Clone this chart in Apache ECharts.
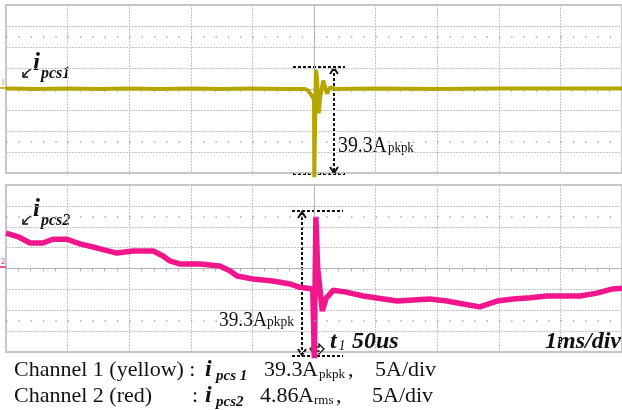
<!DOCTYPE html>
<html>
<head>
<meta charset="utf-8">
<script src="https://cdn.jsdelivr.net/npm/echarts@6/dist/echarts.min.js"></script>
<style>
  html, body { margin: 0; padding: 0; background: #fff; }
  #main { width: 622px; height: 410px; }
</style>
</head>
<body>
<div id="main"></div>
<script>
// time in ms from the trigger (screen centre), current in A
const ch1Time = [-5.0, -4.5, -4.0, -3.5, -3.0, -2.5, -2.0, -1.5, -1.0, -0.5, -0.15, -0.10, -0.06, -0.02, 0.0, 0.005, 0.02, 0.03, 0.05, 0.075, 0.10, 0.15, 0.21, 0.26, 0.35, 1.0, 2.0, 3.0, 4.0, 5.0];
const ch1Amps = [0.1, 0.0, 0.1, 0.0, 0.1, 0.0, 0.1, 0.0, 0.1, 0.0, 0.0, -0.3, -1.1, -1.9, -2.6, -21.0, -21.0, 4.6, 2.5, -5.8, -2.0, 2.0, -1.1, 0.4, 0.0, 0.1, 0.0, 0.1, 0.1, 0.1];

const ch2Time = [-5.0, -4.8, -4.61, -4.4, -4.24, -4.01, -3.8, -3.52, -3.2, -2.94, -2.61, -2.45, -2.34, -2.18, -1.85, -1.53, -1.36, -1.25, -0.99, -0.67, -0.39, -0.23, -0.02, 0.005, 0.02, 0.03, 0.06, 0.135, 0.2, 0.25, 0.31, 0.5, 0.8, 1.35, 1.88, 2.16, 2.42, 2.69, 2.97, 3.23, 3.51, 3.78, 4.32, 4.59, 4.85, 5.0];
const ch2Amps = [8.5, 7.6, 6.1, 6.1, 7.0, 7.0, 5.9, 4.9, 3.7, 4.2, 4.2, 3.0, 1.8, 1.1, 1.1, 0.6, -0.6, -1.8, -2.5, -3.0, -3.7, -4.5, -4.9, -21.5, -21.5, 12.4, 0.0, -10.2, -7.0, -6.3, -5.2, -5.6, -6.6, -7.8, -7.3, -7.8, -8.5, -9.2, -7.8, -7.3, -7.0, -6.6, -6.6, -5.9, -4.9, -4.7];

const timeRange = [-5, 5];   // 1 ms/div
const ampRange = [-20, 20];  // 5 A/div
const dotRows = [12.5, -12.5];

const serif = '"Liberation Serif", "Times New Roman", serif';
const gridColor = '#c6c6c6';
const yellow = '#b3a600';
const pink = '#f2168d';

function pairs(xs, ys) { return xs.map((x, i) => [x, ys[i]]); }

function xAx(gi) {
  return {
    type: 'value', gridIndex: gi, min: timeRange[0], max: timeRange[1], interval: 1,
    axisLine: { show: true, onZero: true, lineStyle: { color: '#b4b4b4', width: 1 } },
    axisTick: { show: false }, axisLabel: { show: false },
    minorTick: { show: true, splitNumber: 5, length: 3, lineStyle: { color: '#b4b4b4' } },
    splitLine: { show: true, lineStyle: { color: gridColor, type: [2, 1] } }
  };
}
function yAx(gi) {
  return {
    type: 'value', gridIndex: gi, min: ampRange[0], max: ampRange[1], interval: 5,
    axisLine: { show: true, onZero: true, lineStyle: { color: '#b4b4b4', width: 1 } },
    axisTick: { show: false }, axisLabel: { show: false },
    minorTick: { show: false },
    splitLine: { show: true, lineStyle: { color: gridColor, type: [2, 1] } }
  };
}
function dots() {
  return {
    silent: true, symbol: 'none', animation: false, label: { show: false },
    lineStyle: { color: '#aaa', width: 1.5, type: [1.5, 10.82] },
    data: dotRows.map(v => ({ yAxis: v }))
  };
}

// text placed by its baseline
function txt(x, base, s, font, size, sx, fill) {
  return { type: 'text', x: x, y: base + size * 0.2, scaleX: sx || 1, silent: true,
    style: { text: s, font: font.replace('%', size + 'px'), fill: fill || '#111', verticalAlign: 'bottom' } };
}
const REG = '% ' + serif;
const BI = 'italic bold % ' + serif;

function dashLine(x1, y1, x2, y2) {
  return { type: 'line', silent: true, shape: { x1, y1, x2, y2 },
    style: { stroke: '#111', lineWidth: 2, lineDash: [3, 2] } };
}
function poly(points, w) {
  return { type: 'polyline', silent: true, shape: { points },
    style: { stroke: '#111', lineWidth: w || 1.6, fill: null } };
}
function vArrow(x, y1, y2) {
  return [
    dashLine(x, y1 + 1, x, y2 - 1),
    poly([[x - 4, y1 + 7], [x, y1 + 1], [x + 4, y1 + 7]], 2),
    poly([[x - 4, y2 - 7], [x, y2 - 1], [x + 4, y2 - 7]], 2)
  ];
}

const graphics = [
  // peak markers, channel 1
  dashLine(293, 67, 345, 67), dashLine(293, 174, 345, 174),
  ...vArrow(334, 67, 174),
  txt(338, 153, '39.3A', REG, 23, 0.86), txt(388, 153, 'pkpk', REG, 15, 0.86),
  // peak markers, channel 2
  dashLine(292, 211, 343, 211), dashLine(292, 356, 343, 356),
  ...vArrow(302, 211, 356),
  txt(219, 327, '39.3A', REG, 22, 0.88), txt(267, 327, 'pkpk', REG, 15, 0.9),
  // t1 marker
  { type: 'polygon', silent: true, shape: { points: [[310, 349], [315, 344], [315, 347], [319, 347], [319, 344], [324, 349], [319, 354], [319, 351], [315, 351], [315, 354]] },
    style: { stroke: '#111', lineWidth: 1.3, fill: '#fff' } },
  txt(330, 349, 't', BI, 24), txt(338.5, 351, '1', 'italic % ' + serif, 14),
  txt(352, 349, '50us', BI, 24),
  txt(545, 349, '1ms/div', BI, 24),
  // trace labels
  poly([[31, 69], [27, 72], [23, 77]], 1.4), poly([[23, 72], [23, 77], [28, 77]], 1.4),
  txt(33, 71, 'i', BI, 25), txt(41, 79, 'pcs1', BI, 16),
  poly([[31, 216], [27, 219], [23, 224]], 1.4), poly([[23, 219], [23, 224], [28, 224]], 1.4),
  txt(33, 217, 'i', BI, 25), txt(41, 226, 'pcs2', BI, 16),
  // channel ground markers
  { type: 'line', silent: true, shape: { x1: 0, y1: 88, x2: 6, y2: 88 }, style: { stroke: yellow, lineWidth: 1.5 } },
  txt(1, 85, '1', REG, 8, 1, yellow),
  { type: 'line', silent: true, shape: { x1: 0, y1: 267, x2: 6, y2: 267 }, style: { stroke: pink, lineWidth: 1.5 } },
  txt(1, 264, '2', REG, 8, 1, pink),
  // caption
  txt(14, 377, 'Channel 1 (yellow) :', REG, 22), txt(205, 377, 'i', BI, 24), txt(216, 381, 'pcs 1', BI, 15),
  txt(264, 377, '39.3', REG, 22), txt(302, 377, 'A', REG, 22), txt(319, 378, 'pkpk', REG, 13),
  txt(348, 377, ',', REG, 22), txt(375, 377, '5A/div', REG, 22),
  txt(14, 403, 'Channel 2 (red)', REG, 22), txt(192, 403, ':', REG, 22), txt(205, 403, 'i', BI, 24), txt(216, 407, 'pcs2', BI, 15),
  txt(260, 403, '4.86', REG, 22), txt(298, 403, 'A', REG, 22), txt(314, 404, 'rms', REG, 13),
  txt(336, 403, ',', REG, 22), txt(372, 403, '5A/div', REG, 22)
];

const chart = echarts.init(document.getElementById('main'), null, { renderer: 'canvas' });
chart.setOption({
  animation: false,
  backgroundColor: '#fff',
  grid: [
    { left: 6, top: 5, width: 616, height: 168, show: true, borderColor: gridColor, borderWidth: 2, backgroundColor: 'transparent' },
    { left: 6, top: 185, width: 616, height: 167, show: true, borderColor: gridColor, borderWidth: 2, backgroundColor: 'transparent' }
  ],
  xAxis: [xAx(0), xAx(1)],
  yAxis: [yAx(0), yAx(1)],
  series: [
    { type: 'line', xAxisIndex: 0, yAxisIndex: 0, data: pairs(ch1Time, ch1Amps), showSymbol: false, clip: false,
      lineStyle: { color: yellow, width: 4 }, z: 3, markLine: dots() },
    { type: 'line', xAxisIndex: 1, yAxisIndex: 1, data: pairs(ch2Time, ch2Amps), showSymbol: false, clip: false,
      lineStyle: { color: pink, width: 5.5 }, z: 3, markLine: dots() }
  ],
  graphic: graphics
});
</script>
</body>
</html>
